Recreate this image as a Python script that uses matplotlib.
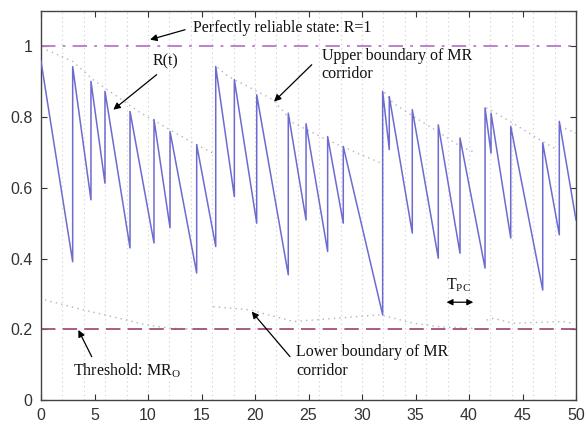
# Maintenance reliability R(t) with MR corridor
import matplotlib as mpl, matplotlib.pyplot as plt, numpy as np

mpl.rcParams.update({'mathtext.fontset': 'custom',
                     'mathtext.rm': 'Liberation Serif',
                     'mathtext.it': 'Liberation Serif:italic'})

# R(t): start value, then at each maintenance time the value just before / just after
r_start = 0.958
jump_t = [2.96, 4.67, 5.98, 8.32, 10.56, 12.06, 14.55, 16.33, 18.07, 20.16, 23.11,
          24.77, 26.79, 28.25, 31.93, 32.55, 34.7, 37.13, 39.16, 41.5, 42.06, 43.9,
          46.89, 48.44]
r_before = [0.391, 0.566, 0.613, 0.430, 0.444, 0.487, 0.359, 0.434, 0.575, 0.500, 0.354,
            0.509, 0.420, 0.500, 0.241, 0.708, 0.472, 0.401, 0.415, 0.373, 0.698, 0.458,
            0.311, 0.467]
r_after = [0.943, 0.901, 0.873, 0.816, 0.793, 0.759, 0.722, 0.943, 0.906, 0.863, 0.811,
           0.781, 0.745, 0.717, 0.873, 0.858, 0.821, 0.778, 0.741, 0.826, 0.811, 0.774,
           0.727, 0.788]
t_end, r_end = 50, 0.509

# Upper / lower boundary of the MR corridor (segments)
upper = [
    ([0.53, 2.99, 4.86, 9.25, 14.2, 16.07], [0.99, 0.957, 0.906, 0.813, 0.727, 0.698]),
    ([16.5, 17.5, 21.7, 23.55, 26.7, 29.5, 31.7], [0.94, 0.915, 0.849, 0.784, 0.736, 0.699, 0.671]),
    ([32.1, 32.9, 34.8, 37.3, 39.2, 40.7], [0.87, 0.84, 0.802, 0.755, 0.717, 0.698]),
    ([41.6, 41.96, 44.1, 46.6, 48.2], [0.826, 0.821, 0.783, 0.736, 0.708]),
    ([48.5, 50], [0.774, 0.755]),
]
lower = [
    ([0.37, 3.95, 8.0, 9.9, 12.0, 15.5], [0.283, 0.255, 0.226, 0.212, 0.203, 0.2]),
    ([16.1, 19.5, 23.6, 25.4, 31.7, 34.8, 37.3, 40.5], [0.264, 0.255, 0.222, 0.226, 0.241, 0.217, 0.207, 0.202]),
    ([41.65, 42.3, 44.1, 48.8, 49.7], [0.226, 0.231, 0.217, 0.222, 0.217]),
]
R_PERFECT = 1.0
MR_O = 0.2

# build the sawtooth path
t = [0]
r = [r_start]
for tj, rb, ra in zip(jump_t, r_before, r_after):
    t += [tj, tj]
    r += [rb, ra]
t.append(t_end)
r.append(r_end)

fig = plt.figure(figsize=(5.86, 4.25), dpi=100)
ax = fig.add_axes([41/586, 25/425, 535/586, 389/425])

# vertical dotted grid every 2 units
for gx in np.arange(2, 50, 2):
    ax.axvline(gx, color='#ccccd4', lw=0.8, ls=(0, (1, 3)), zorder=0)

for xs, ys in upper + lower:
    ax.plot(xs, ys, color='#b4b4b4', lw=1.0, ls=(0, (1, 3)), zorder=1)

ax.axhline(R_PERFECT, color='#b878c8', lw=1.3, ls=(0, (8, 4, 1.5, 4)), zorder=2)
ax.axhline(MR_O, color='#a05078', lw=1.3, ls=(0, (8, 4)), zorder=2)
ax.plot(t, r, color='#6c6cd0', lw=1.1, zorder=3)

ax.set_xlim(0, 50)
ax.set_ylim(0, 1.1)
ax.set_xticks(np.arange(0, 51, 5))
ax.set_yticks([0, 0.2, 0.4, 0.6, 0.8, 1.0])
ax.set_yticklabels(['0', '0.2', '0.4', '0.6', '0.8', '1'])
ax.tick_params(direction='in', top=True, right=True, length=4, width=0.8, pad=6,
               color='#333333', labelcolor='#333333', labelsize=11.5)
for lab in ax.get_xticklabels() + ax.get_yticklabels():
    lab.set_fontfamily('Liberation Sans')
for s in ax.spines.values():
    s.set_color('#444444')
    s.set_linewidth(1.0)

serif = dict(fontfamily='Liberation Serif', fontsize=11.5, color='#111111')
arrow = dict(arrowstyle='-|>', color='black', lw=0.9, mutation_scale=10, shrinkA=0, shrinkB=0)

ax.text(14.2, 1.053, 'Perfectly reliable state: R=1', va='center', ha='left', **serif)
ax.annotate('', xy=(10.19, 1.019), xytext=(13.46, 1.047), arrowprops=arrow)
ax.text(10.4, 0.957, 'R(t)', va='center', ha='left', **serif)
ax.annotate('', xy=(6.76, 0.821), xytext=(10.81, 0.92), arrowprops=arrow)
ax.text(26.23, 0.948, 'Upper boundary of MR\ncorridor', va='center', ha='left',
        linespacing=1.2, **serif)
ax.annotate('', xy=(21.78, 0.844), xytext=(25.3, 0.948), arrowprops=arrow)
ax.text(39.0, 0.323, r'T$_{\mathrm{PC}}$', va='center', ha='center', **serif)
ax.annotate('', xy=(40.4, 0.2765), xytext=(37.9, 0.2765),
            arrowprops=dict(arrowstyle='<|-|>', color='black', lw=0.9, mutation_scale=9,
                            shrinkA=0, shrinkB=0))
ax.text(2.96, 0.082, r'Threshold: MR$_{\mathrm{O}}$', va='center', ha='left', **serif)
ax.annotate('', xy=(3.49, 0.198), xytext=(4.74, 0.1226), arrowprops=arrow)
ax.text(23.83, 0.109, 'Lower boundary of MR\ncorridor', va='center', ha='left',
        linespacing=1.2, **serif)
ax.annotate('', xy=(19.69, 0.25), xytext=(23.27, 0.1226), arrowprops=arrow)

fig.savefig('out.png', dpi=100)
